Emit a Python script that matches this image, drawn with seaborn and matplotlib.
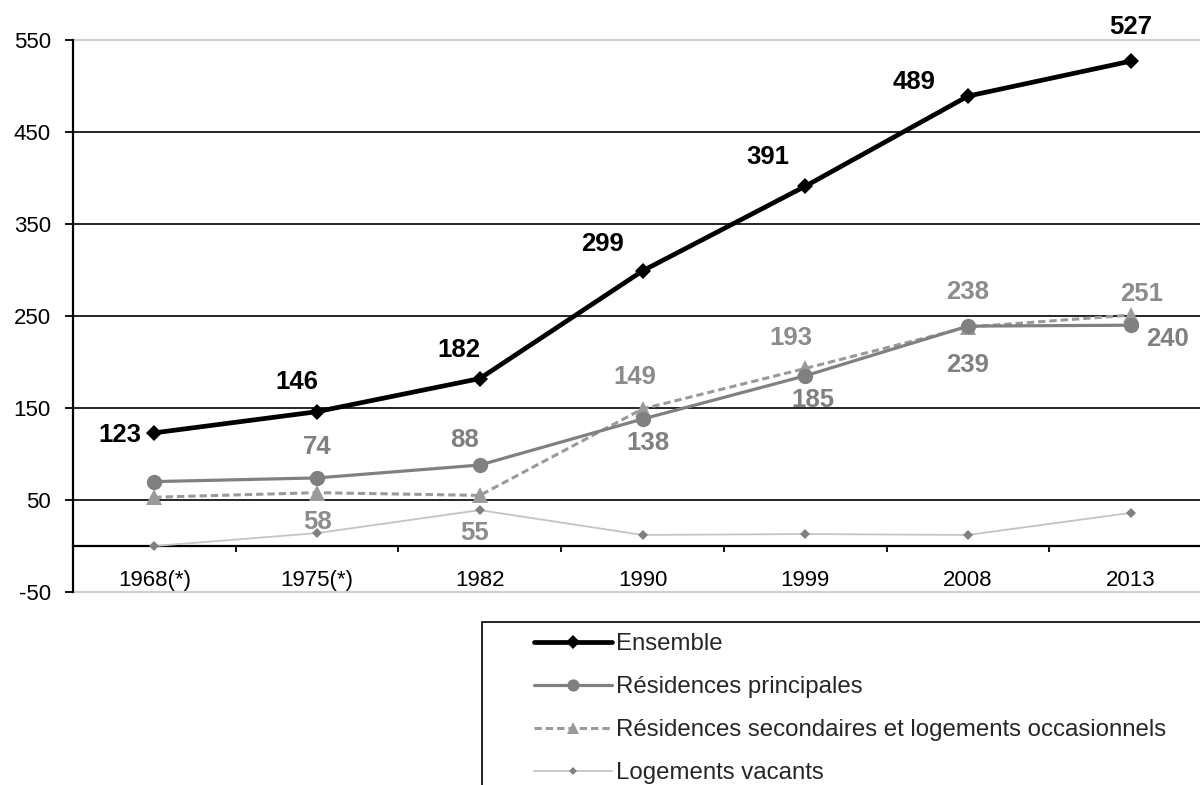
import matplotlib
matplotlib.use("Agg")
import matplotlib.pyplot as plt
from matplotlib.patches import Rectangle
from matplotlib.lines import Line2D
import seaborn as sns
import pandas as pd

# Housing stock by census year
years = ["1968(*)", "1975(*)", "1982", "1990", "1999", "2008", "2013"]
ensemble = [123, 146, 182, 299, 391, 489, 527]
principales = [70, 74, 88, 138, 185, 239, 240]
secondaires = [53, 58, 55, 149, 193, 238, 251]
vacants = [0, 14, 39, 12, 13, 12, 36]
y_ticks = [-50, 50, 150, 250, 350, 450, 550]

series_names = [
    "Ensemble",
    "Résidences principales",
    "Résidences secondaires et logements occasionnels",
    "Logements vacants",
]

sns.set_style("white")
plt.rcParams["font.family"] = ["Liberation Sans", "DejaVu Sans"]

fig = plt.figure(figsize=(12, 7.85), dpi=100)
ax = fig.add_axes([73 / 1200, 1 - 592 / 785, 1139 / 1200, 552 / 785])

xpos = list(range(len(years)))
df = pd.DataFrame({"x": xpos * 4,
                   "value": ensemble + principales + secondaires + vacants,
                   "serie": sum([[n] * len(years) for n in series_names], [])})

styles = {
    series_names[0]: dict(color="black", lw=3.4, marker="D", ms=8.5, mfc="black", mec="black", ls="-"),
    series_names[1]: dict(color="#808080", lw=2.3, marker="o", ms=11, mfc="#808080", mec="#808080", ls="-"),
    series_names[2]: dict(color="#9a9a9a", lw=2.2, marker="^", ms=11, mfc="#9a9a9a", mec="#9a9a9a", ls=(0, (2.4, 1.3))),
    series_names[3]: dict(color="#c4c4c4", lw=1.3, marker="D", ms=5, mfc="#808080", mec="#808080", ls="-"),
}
zorders = {series_names[0]: 6, series_names[1]: 5, series_names[2]: 4, series_names[3]: 3}

for name in series_names[::-1]:
    st = styles[name]
    sub = df[df["serie"] == name]
    sns.lineplot(data=sub, x="x", y="value", ax=ax, color=st["color"], linewidth=st["lw"],
                 linestyle=st["ls"], marker=st["marker"], markersize=st["ms"],
                 markerfacecolor=st["mfc"], markeredgecolor=st["mec"], markeredgewidth=0,
                 zorder=zorders[name], legend=False)

ax.set_xlim(-0.5, len(years) - 0.5)
ax.set_ylim(-50, 550)

# Horizontal rules
for yv in [50, 150, 250, 350, 450]:
    ax.axhline(yv, color="black", lw=1.2, zorder=1)
for yv in [-50, 550]:
    ax.axhline(yv, color="#d0d0d0", lw=1.5, zorder=1, clip_on=False)

for side in ["top", "right"]:
    ax.spines[side].set_visible(False)
ax.spines["left"].set_color("black")
ax.spines["left"].set_linewidth(1.6)
ax.spines["bottom"].set_position(("data", 0))
ax.spines["bottom"].set_color("black")
ax.spines["bottom"].set_linewidth(1.6)
ax.spines["bottom"].set_zorder(2)

ax.set_yticks(y_ticks)
ax.set_yticklabels([str(v) for v in y_ticks])
ax.tick_params(axis="y", direction="out", length=6, width=1.3, color="black",
               labelsize=16, pad=10, labelcolor="black", left=True)

ax.set_xticks(xpos)
ax.set_xticklabels(years)
ax.set_xticks([p + 0.5 for p in xpos[:-1]], minor=True)
ax.tick_params(axis="x", which="major", length=0, labelsize=16, pad=17, labelcolor="black")
ax.tick_params(axis="x", which="minor", direction="out", length=4.5, width=1.3, color="black", bottom=True)
ax.set_xlabel("")
ax.set_ylabel("")
ax.grid(False)

# Value labels (offsets in pixels)
ens_off = [(-34, -2), (-20, 30), (-21, 29), (-40, 27), (-37, 29), (-54, 14), (0, 34)]
pri_off = [None, (0, 31), (-15, 25), (5, -24), (8, -24), (0, -39), (37, -14)]
sec_off = [None, (0, -29), (-5, -38), (-8, 32), (-14, 30), (0, 35), (11, 21)]

def put_labels(vals, offs, color):
    for x, v, off in zip(xpos, vals, offs):
        if off is None:
            continue
        ax.annotate(str(v), (x, v), xytext=off, textcoords="offset pixels",
                    ha="center", va="center", fontsize=18.5, fontweight="bold",
                    color=color, zorder=8, annotation_clip=False)

put_labels(ensemble, ens_off, "black")
put_labels(principales, pri_off, "#808080")
put_labels(secondaires, sec_off, "#8c8c8c")

# Legend box
fig.patches.append(Rectangle((482 / 1200, -0.05), 0.7, 1 - 622 / 785 + 0.05,
                             transform=fig.transFigure, facecolor="white",
                             edgecolor="black", lw=1.2, zorder=0))
handles = []
for name in series_names:
    st = styles[name]
    handles.append(Line2D([], [], color=st["color"], lw=st["lw"], ls=st["ls"],
                          marker=st["marker"], ms=st["ms"] * 0.8, mfc=st["mfc"],
                          mec=st["mec"], mew=0))
fig.legend(handles, series_names, loc="upper left",
           bbox_to_anchor=(534 / 1200, 1 - 633 / 785), frameon=False,
           fontsize=17.3, handlelength=3.25, handletextpad=0.17, labelspacing=0.88,
           borderpad=0, borderaxespad=0, markerscale=1.0)

fig.savefig("out.png", dpi=100)
